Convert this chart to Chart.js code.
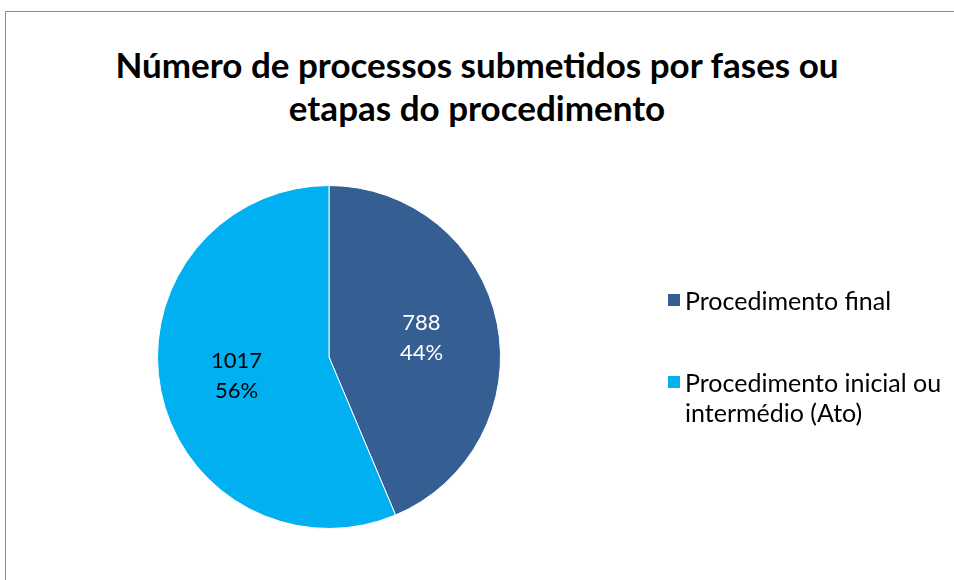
<!DOCTYPE html>
<html>
<head>
<meta charset="utf-8">
<script src="https://cdn.jsdelivr.net/npm/chart.js@4"></script>
<style>
  body { margin: 0; background: #fff; }
  .frame { position: absolute; left: 5px; top: 11px; width: 960px; height: 580px; border: 1px solid #8c8c8c; box-sizing: border-box; }
  .wrap { position: absolute; left: 0; top: 0; width: 954px; height: 580px; }
  .titulo { position: absolute; left: 0; top: 43px; width: 954px; text-align: center; font-family: Lato, "Open Sans", sans-serif; font-weight: bold; font-size: 35px; line-height: 43px; color: #000; }
  .legend { position: absolute; left: 668px; top: 285px; font-family: Lato, "Open Sans", sans-serif; font-size: 25px; color: #000; }
  .legend .item { position: relative; padding-left: 17px; line-height: 30px; width: 280px; }
  .legend .item span.box { position: absolute; left: 0; top: 9px; width: 12px; height: 12px; }
</style>
</head>
<body>
<div class="frame"></div>
<div class="titulo" id="titulo"></div>
<div class="wrap"><canvas id="pieChart" width="954" height="580"></canvas></div>
<div class="legend" id="legend"></div>
<script>
// dados do gráfico
const categorias = ['Procedimento final', 'Procedimento inicial ou intermédio (Ato)'];
const valores = [788, 1017];
const percentagens = ['44%', '56%'];
const cores = ['#355E92', '#00B0F0'];
const titulo = ['Número de processos submetidos por fases ou', 'etapas do procedimento'];

document.getElementById('titulo').innerHTML = titulo.join('<br>');

// rótulos dentro das fatias
const rotulosPlugin = {
    id: 'rotulos',
    afterDatasetsDraw(chart) {
        const ctx = chart.ctx;
        const meta = chart.getDatasetMeta(0);
        ctx.save();
        ctx.font = '22px Lato, "Open Sans", sans-serif';
        ctx.textAlign = 'center';
        ctx.textBaseline = 'middle';
        meta.data.forEach((arc, i) => {
            const a = (arc.startAngle + arc.endAngle) / 2;
            const d = arc.outerRadius * 0.55;
            const x = arc.x + Math.cos(a) * d;
            const y = arc.y + Math.sin(a) * d;
            ctx.fillStyle = i === 0 ? '#ffffff' : '#000000';
            ctx.fillText(String(valores[i]), x, y - 15);
            ctx.fillText(percentagens[i], x, y + 15);
        });
        ctx.restore();
    }
};

const ctx = document.getElementById('pieChart').getContext('2d');
const pieChart = new Chart(ctx, {
    type: 'pie',
    data: {
        labels: categorias,
        datasets: [{
            data: valores,
            backgroundColor: cores,
            borderColor: '#ffffff',
            borderWidth: 1
        }]
    },
    options: {
        responsive: false,
        animation: false,
        layout: {
            padding: { left: 157, right: 453, top: 185, bottom: 51 }
        },
        plugins: {
            legend: { display: false },
            tooltip: { enabled: false },
            title: { display: false }
        }
    },
    plugins: [rotulosPlugin]
});

// legenda em HTML
const legenda = document.getElementById('legend');
const textosLegenda = ['Procedimento final', 'Procedimento inicial ou<br>intermédio (Ato)'];
textosLegenda.forEach((t, i) => {
    const d = document.createElement('div');
    d.className = 'item';
    d.style.marginBottom = i === 0 ? '52px' : '0';
    d.innerHTML = '<span class="box" style="background:' + cores[i] + '"></span>' + t;
    legenda.appendChild(d);
});
</script>
</body>
</html>
